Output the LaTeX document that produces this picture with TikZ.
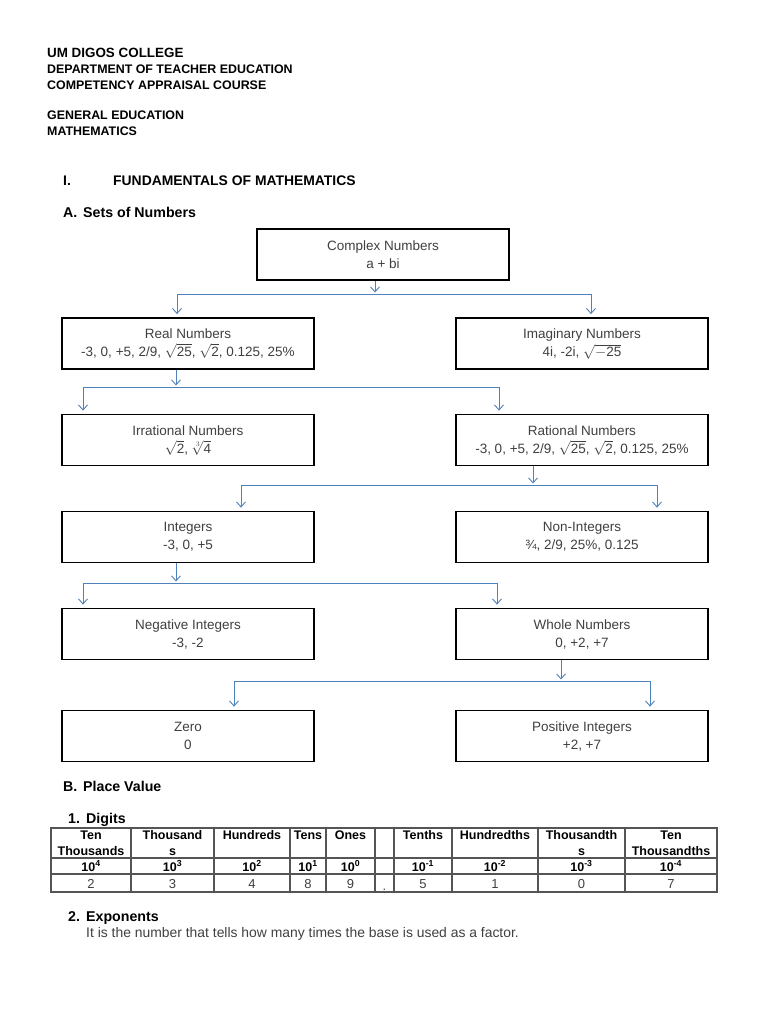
\documentclass[tikz,border=0pt]{standalone}
\usepackage{fontspec}
\setmainfont{Liberation Sans}
\usetikzlibrary{arrows.meta}
\definecolor{linkc}{RGB}{79,129,189}
\definecolor{txtc}{RGB}{64,64,64}
\definecolor{tabc}{RGB}{85,85,85}
\newcommand{\myroot}[1]{\smash{$\sqrt{\mbox{#1}}$}}
\begin{document}
\begin{tikzpicture}[x=1pt,y=-1pt,
  box/.style={draw=black,line width=1.8pt,minimum width=252pt,minimum height=51pt,align=center,text=txtc,inner sep=0pt,font=\fontsize{13.5}{18}\selectfont},
  link/.style={draw=linkc,line width=0.9pt},
  arr/.style={link,-{Straight Barb[length=5pt,width=9pt]}},
  head/.style={anchor=base west,inner sep=0pt,font=\fontsize{12.4}{14}\selectfont\bfseries},
  headb/.style={anchor=base west,inner sep=0pt,font=\fontsize{14.2}{16}\selectfont\bfseries},
  tline/.style={draw=tabc,line width=1.2pt},
  th/.style={anchor=base,inner sep=0pt,font=\fontsize{12.5}{16}\selectfont\bfseries},
  te/.style={anchor=base,inner sep=0pt,font=\fontsize{12.5}{16}\selectfont\bfseries},
  td/.style={anchor=base,inner sep=0pt,text=txtc,font=\fontsize{13}{16}\selectfont},
  body/.style={anchor=base west,inner sep=0pt,text=txtc,font=\fontsize{13.9}{16}\selectfont}
]
\useasboundingbox (0,0) rectangle (768,1024);
\fill[white] (0,0) rectangle (768,1024);

% header
\node[head,font=\fontsize{13.4}{14}\selectfont\bfseries] (h1) at (47,57.5) {UM DIGOS COLLEGE};
\node[head] (h2) at (47,73.5) {DEPARTMENT OF TEACHER EDUCATION};
\node[head] (h3) at (47,89.5) {COMPETENCY APPRAISAL COURSE};
\node[head] (h4) at (47,119.5) {GENERAL EDUCATION};
\node[head] (h5) at (47,135.5) {MATHEMATICS};

\node[head,font=\fontsize{13.9}{14}\selectfont\bfseries] (s1n) at (63,186) {I.};
\node[head,font=\fontsize{13.9}{14}\selectfont\bfseries] (s1) at (113,186) {FUNDAMENTALS OF MATHEMATICS};
\node[headb] (sAn) at (63,218) {A.};
\node[headb] (sA) at (83,218) {Sets of Numbers};

% boxes
\node[box] (complex) at (383,254.5) {Complex Numbers\\a + bi};
\node[box] (real) at (188,343.5) {Real Numbers\\-3, 0, +5, 2/9, \myroot{25}, \myroot{2}, 0.125, 25\%};
\node[box] (imag) at (582,343.5) {Imaginary Numbers\\4i, -2i, \smash{$\sqrt{-\mbox{25}}$}};
\node[box] (irr) at (188,440) {Irrational Numbers\\\myroot{2}, \smash{$\sqrt[3]{\mbox{4}}$}};
\node[box] (rat) at (582,440) {Rational Numbers\\-3, 0, +5, 2/9, \myroot{25}, \myroot{2}, 0.125, 25\%};
\node[box] (int) at (188,537) {Integers\\-3, 0, +5};
\node[box] (nonint) at (582,537) {Non-Integers\\¾, 2/9, 25\%, 0.125};
\node[box] (neg) at (188,634) {Negative Integers\\-3, -2};
\node[box] (whole) at (582,634) {Whole Numbers\\0, +2, +7};
\node[box] (zero) at (188,736) {Zero\\0};
\node[box] (pos) at (582,736) {Positive Integers\\+2, +7};

% connectors
\coordinate (m1) at (375,294); \coordinate (l1) at (177,294); \coordinate (r1) at (591,294);
\draw[arr] (complex.south -| m1) -- ([yshift=1.5pt]m1);
\draw[link] (l1) -- (r1);
\draw[arr] (l1) -- ([yshift=3pt]real.north -| l1);
\draw[arr] (r1) -- ([yshift=3pt]imag.north -| r1);

\coordinate (m2) at (176,387); \coordinate (l2) at (83,387); \coordinate (r2) at (499,387);
\draw[arr] (real.south -| m2) -- ([yshift=1.5pt]m2);
\draw[link] (l2) -- (r2);
\draw[arr] (l2) -- ([yshift=3pt]irr.north -| l2);
\draw[arr] (r2) -- ([yshift=3pt]rat.north -| r2);

\coordinate (m3) at (533,485); \coordinate (l3) at (241,485); \coordinate (r3) at (657,485);
\draw[arr] (rat.south -| m3) -- ([yshift=1.5pt]m3);
\draw[link] (l3) -- (r3);
\draw[arr] (l3) -- ([yshift=3pt]int.north -| l3);
\draw[arr] (r3) -- ([yshift=3pt]nonint.north -| r3);

\coordinate (m4) at (176,583); \coordinate (l4) at (83,583); \coordinate (r4) at (497,583);
\draw[arr] (int.south -| m4) -- ([yshift=1.5pt]m4);
\draw[link] (l4) -- (r4);
\draw[arr] (l4) -- ([yshift=3pt]neg.north -| l4);
\draw[arr] (r4) -- ([yshift=3pt]whole.north -| r4);

\coordinate (m5) at (561,681); \coordinate (l5) at (234,681); \coordinate (r5) at (650,681);
\draw[arr] (whole.south -| m5) -- ([yshift=1.5pt]m5);
\draw[link] (l5) -- (r5);
\draw[arr] (l5) -- ([yshift=3pt]zero.north -| l5);
\draw[arr] (r5) -- ([yshift=3pt]pos.north -| r5);

% place value
\node[headb] (sBn) at (63,791) {B.};
\node[headb] (sB) at (83,791) {Place Value};
\node[headb] (d1n) at (68,823) {1.};
\node[headb] (d1) at (86,823) {Digits};

\draw[tline] (51,828) rectangle (717,892);
\foreach \x in {131,214,290,326,375,394,452,538,625} \draw[tline] (\x,828) -- (\x,892);
\draw[tline] (51,858) -- (717,858);
\draw[tline] (51,874) -- (717,874);

\node[th] (c1a) at (91,839.5) {Ten};
\node[th] (c1b) at (91,855) {Thousands};
\node[th] (c2a) at (172.5,839.5) {Thousand};
\node[th] (c2b) at (172.5,855) {s};
\node[th] (c3) at (252,839.5) {Hundreds};
\node[th] (c4) at (308,839.5) {Tens};
\node[th] (c5) at (350.5,839.5) {Ones};
\node[th] (c7) at (423,839.5) {Tenths};
\node[th] (c8) at (495,839.5) {Hundredths};
\node[th] (c9a) at (581.5,839.5) {Thousandth};
\node[th] (c9b) at (581.5,855) {s};
\node[th] (c10a) at (671,839.5) {Ten};
\node[th] (c10b) at (671,855) {Thousandths};

\node[te] (e1) at (91,871) {10\textsuperscript{4}};
\node[te] (e2) at (172.5,871) {10\textsuperscript{3}};
\node[te] (e3) at (252,871) {10\textsuperscript{2}};
\node[te] (e4) at (308,871) {10\textsuperscript{1}};
\node[te] (e5) at (350.5,871) {10\textsuperscript{0}};
\node[te] (e7) at (423,871) {10\textsuperscript{-1}};
\node[te] (e8) at (495,871) {10\textsuperscript{-2}};
\node[te] (e9) at (581.5,871) {10\textsuperscript{-3}};
\node[te] (e10) at (671,871) {10\textsuperscript{-4}};

\node[td] (g1) at (91,888) {2};
\node[td] (g2) at (172.5,888) {3};
\node[td] (g3) at (252,888) {4};
\node[td] (g4) at (308,888) {8};
\node[td] (g5) at (350.5,888) {9};
\node[td] (g6) at (384.5,890) {.};
\node[td] (g7) at (423,888) {5};
\node[td] (g8) at (495,888) {1};
\node[td] (g9) at (581.5,888) {0};
\node[td] (g10) at (671,888) {7};

\node[headb] (x2n) at (68,921) {2.};
\node[headb] (x2) at (86,921) {Exponents};
\node[body] (xt) at (86,937) {It is the number that tells how many times the base is used as a factor.};
\end{tikzpicture}
\end{document}
